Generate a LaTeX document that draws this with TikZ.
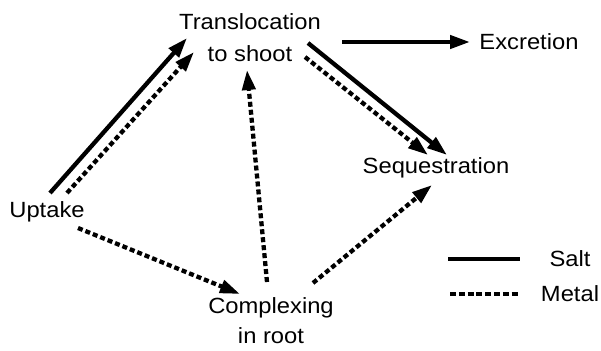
\documentclass[tikz,border=0pt]{standalone}
\usepackage{fontspec}
\setmainfont{Liberation Sans}[FakeStretch=1.08]
\usetikzlibrary{arrows.meta}
\begin{document}
\begin{tikzpicture}[x=1pt,y=-1pt,
  label/.style={font=\fontsize{22}{32}\selectfont, inner sep=0pt, align=center},
  salt/.style={line width=4.3pt, -{Triangle[length=20pt,width=13pt]}},
  metal/.style={line width=4.3pt, dash pattern=on 5pt off 3pt, -{Triangle[length=20pt,width=13pt]}},
  keysalt/.style={line width=4.5pt},
  keymetal/.style={line width=4.5pt, dash pattern=on 6pt off 2.8pt}]
  \useasboundingbox (0,0) rectangle (601,350);

  % process stages
  \node[label] (tr) at (250,38) {Translocation\\to shoot};
  \node[label] (ex) at (529,42) {Excretion};
  \node[label] (seq) at (436,168) {Sequestration};
  \node[label] (up) at (47,212) {Uptake};
  \node[label, font=\fontsize{22}{30}\selectfont] (cx) at (271,321) {Complexing\\in root};

  % uptake into the plant
  \draw[salt]  ([shift={(3,-19)}]up.center)  -- ([shift={(-63,0)}]tr.center);
  \draw[metal] ([shift={(20,-19)}]up.center) -- ([shift={(-56,14)}]tr.center);
  \draw[metal] ([shift={(31,16)}]up.center)  -- ([shift={(-31,-27)}]cx.center);

  % from the root complex
  \draw[metal] ([shift={(-4,-39)}]cx.center) -- ([shift={(-3,32)}]tr.center);
  \draw[metal] ([shift={(42,-38)}]cx.center) -- ([shift={(-4,17)}]seq.center);

  % from the shoot
  \draw[salt]  ([shift={(58,5)}]tr.center)  -- ([shift={(11,-13)}]seq.center);
  \draw[metal] ([shift={(55,19)}]tr.center) -- ([shift={(-8,-13)}]seq.center);
  \draw[salt]  ([shift={(92,4)}]tr.center)  -- ([shift={(-59,0)}]ex.center);

  % key
  \node[label] (ksalt) at (570,259) {Salt};
  \node[label] (kmetal) at (570,294) {Metal};
  \coordinate (ks) at (448,259);
  \coordinate (km) at (450,294);
  \draw[keysalt]  (ks) -- ([xshift=-50pt]ksalt.center);
  \draw[keymetal] (km) -- ([xshift=-50pt]kmetal.center);
\end{tikzpicture}
\end{document}
